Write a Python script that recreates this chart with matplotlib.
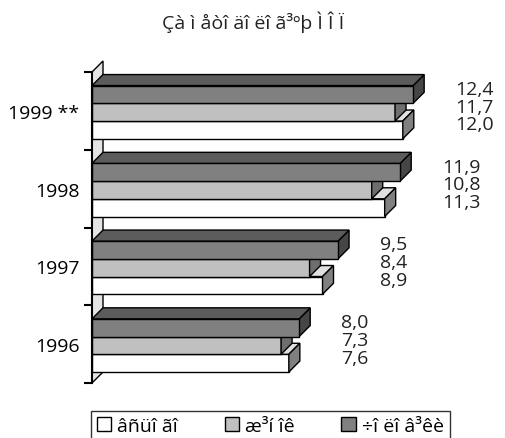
import matplotlib
matplotlib.use("Agg")
import matplotlib.pyplot as plt
from matplotlib.patches import Polygon, Patch

# data
years = ['1996', '1997', '1998', '1999 **']
total = [7.6, 8.9, 11.3, 12.0]
women = [7.3, 8.4, 10.8, 11.7]
men = [8.0, 9.5, 11.9, 12.4]
series_names = ['âñüî ãî', 'æ³í îê', '÷î ëî â³êè']
title = 'Çà ì åòî äî ëî ã³ºþ Ì Î Ï'

plt.rcParams['font.family'] = ['Open Sans', 'DejaVu Sans']

# front, top, side colours for each series
faces = [('white', '#e0e0e0', '#808080'),
         ('#c0c0c0', '#a0a0a0', '#6e6e6e'),
         ('#808080', '#5c5c5c', '#464646')]

W, H = 506, 439
fig = plt.figure(figsize=(W / 100, H / 100), dpi=100)
ax = fig.add_axes([92 / W, 55 / H, 414 / W, 311 / H])
ax.set_xlim(0, 414 / 25.9)
ax.set_ylim(0, 4)

dx = 11 / 25.9     # depth of the fake 3d effect, in data units
dy = 11 / 77.75
h = 0.228

# back wall
ax.add_patch(Polygon([(0, 0), (dx, dy), (dx, 4 + dy), (0, 4)], closed=True,
                     facecolor='#e4e4e4', edgecolor='black', lw=1,
                     zorder=1, clip_on=False))

for k, vals in enumerate([total, women, men]):
    front, top, side = faces[k]
    bottoms = [i + dy + k * h for i in range(len(years))]
    ax.barh(bottoms, vals, height=h, left=0, align='edge', color=front,
            edgecolor='black', lw=1, zorder=2 + k)
    for b, v in zip(bottoms, vals):
        ax.add_patch(Polygon([(0, b + h), (dx, b + h + dy), (v + dx, b + h + dy),
                              (v, b + h)], closed=True, facecolor=top,
                             edgecolor='black', lw=1, zorder=2 + k,
                             clip_on=False))
        ax.add_patch(Polygon([(v, b), (v + dx, b + dy), (v + dx, b + h + dy),
                              (v, b + h)], closed=True, facecolor=side,
                             edgecolor='black', lw=1, zorder=3.7 - 0.1 * k,
                             clip_on=False))

# value labels
for i in range(len(years)):
    group = [total[i], women[i], men[i]]
    for k, v in enumerate(group):
        yc = i + dy + k * h + h / 2 + dy / 2
        ax.text(max(group) + dx + 1.2, yc, ('%.1f' % v).replace('.', ','),
                ha='left', va='center', fontsize=14, color='#222222')

for s in ['top', 'right', 'bottom']:
    ax.spines[s].set_visible(False)
ax.spines['left'].set_linewidth(1.5)
ax.spines['left'].set_zorder(6)
ax.set_xticks([])
ax.set_yticks(range(len(years) + 1))
ax.set_yticklabels([])
ax.tick_params(axis='y', which='major', length=6, width=1.5)
ax.set_yticks([i + 0.5 for i in range(len(years))], minor=True)
ax.set_yticklabels(years, minor=True, fontsize=14)
ax.tick_params(axis='y', which='minor', length=0, pad=9)
ax.patch.set_visible(False)

fig.text(0.5, 1 - 22 / H, title, ha='center', va='center', fontsize=14,
         color='#222222')

handles = [Patch(facecolor=f[0], edgecolor='black', lw=1) for f in faces]
leg = fig.legend(handles, series_names, loc='upper left',
                 bbox_to_anchor=(91 / W, 1 - 412 / H), borderaxespad=0,
                 ncol=3, fontsize=14, frameon=True, fancybox=False,
                 handlelength=0.75, handleheight=0.75, handletextpad=0.3,
                 columnspacing=2.4, borderpad=0.3)
leg.get_frame().set_edgecolor('black')
leg.get_frame().set_linewidth(1)

fig.savefig('out.png', dpi=100)
